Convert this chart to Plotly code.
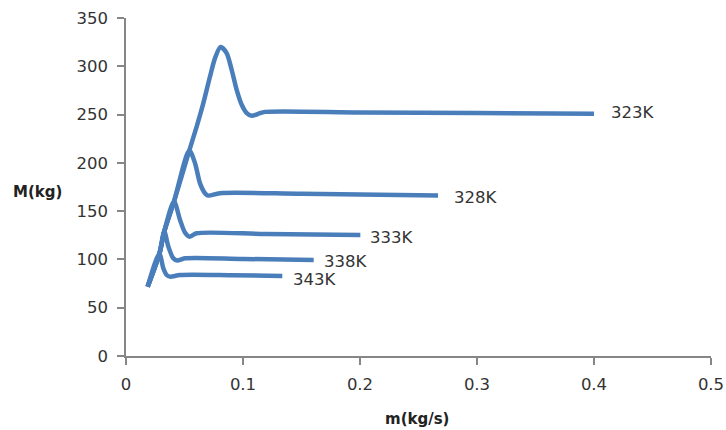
import plotly.graph_objects as go

# Data
labels = ["323K", "328K", "333K", "338K", "343K"]

x_323 = [0.0185, 0.0285, 0.0327, 0.041, 0.0541, 0.0604, 0.0661, 0.0718, 0.0761, 0.0809, 0.0860, 0.0903, 0.0946, 0.0989, 0.1032, 0.1074, 0.1131, 0.1188, 0.2, 0.3, 0.4]
m_323 = [71.8, 105.7, 128.8, 159.9, 212.7, 237.6, 261.9, 289.4, 308.5, 319.9, 313.7, 296.4, 275.6, 260.1, 251.5, 248.7, 250.8, 252.8, 252.2, 251.5, 250.8]

x_328 = [0.0185, 0.0285, 0.0327, 0.041, 0.0541, 0.059, 0.0632, 0.0675, 0.0703, 0.0803, 0.15, 0.2667]
m_328 = [71.8, 105.7, 128.8, 159.9, 212.7, 199.7, 179.0, 168.6, 166.1, 168.6, 168.0, 166.3]

x_333 = [0.0185, 0.0285, 0.0327, 0.041, 0.0462, 0.0504, 0.0541, 0.0604, 0.12, 0.2003]
m_333 = [71.8, 105.7, 128.8, 159.9, 140.9, 127.8, 123.6, 127.1, 126.3, 125.4]

x_338 = [0.0185, 0.0285, 0.0327, 0.0362, 0.0404, 0.0438, 0.0504, 0.1, 0.1604]
m_338 = [71.8, 105.7, 128.8, 113.3, 101.2, 98.8, 101.2, 100.5, 99.5]

x_343 = [0.0185, 0.0285, 0.0319, 0.0348, 0.0376, 0.0462, 0.09, 0.1336]
m_343 = [71.8, 105.7, 90.9, 83.9, 82.2, 83.9, 83.7, 82.9]

series_x = [x_323, x_328, x_333, x_338, x_343]
series_m = [m_323, m_328, m_333, m_338, m_343]

x_ticks = [0, 0.1, 0.2, 0.3, 0.4, 0.5]
y_ticks = [0, 50, 100, 150, 200, 250, 300, 350]

# Style
line_color = "#4a7ebb"
text_color = "#333333"
axis_color = "#868686"
font_family = "DejaVu Sans, Liberation Sans, sans-serif"
label_xshift = [15, 14, 8, 8, 9]
label_yshift = [1, -2, -3, -2, -4]

fig = go.Figure()
for xs, ms, name in zip(series_x, series_m, labels):
    fig.add_trace(go.Scatter(
        x=xs, y=ms, mode="lines", name=name,
        line=dict(color=line_color, width=4.5, shape="spline", smoothing=0.8),
        showlegend=False, hoverinfo="skip",
    ))

for xs, ms, name, dx, dy in zip(series_x, series_m, labels, label_xshift, label_yshift):
    fig.add_annotation(
        x=xs[-1], y=ms[-1], xref="x", yref="y", text=name, showarrow=False,
        xanchor="left", yanchor="middle", xshift=dx, yshift=dy,
        font=dict(family=font_family, size=16.5, color=text_color),
    )

fig.add_annotation(
    x=-0.151, y=0.4865, xref="paper", yref="paper", text="<b>M(kg)</b>",
    showarrow=False, xanchor="center", yanchor="middle",
    font=dict(family=font_family, size=15, color="#222222"),
)
fig.add_annotation(
    x=0.497, y=-0.1866, xref="paper", yref="paper", text="<b>m(kg/s)</b>",
    showarrow=False, xanchor="center", yanchor="middle",
    font=dict(family=font_family, size=15, color="#222222"),
)

fig.update_layout(
    width=726, height=430, autosize=False,
    margin=dict(l=126, r=15, t=18, b=74, autoexpand=False),
    paper_bgcolor="white", plot_bgcolor="white",
    font=dict(family=font_family, size=16.5, color=text_color),
)
fig.update_xaxes(
    range=[0, 0.5], tickvals=x_ticks, ticktext=[str(v) for v in x_ticks],
    showgrid=False, zeroline=False, showline=True, linecolor=axis_color, linewidth=1.5,
    ticks="outside", ticklen=7, tickcolor=axis_color, tickwidth=1.5,
    ticklabelstandoff=5, automargin=False,
)
fig.update_yaxes(
    range=[0, 350], tickvals=y_ticks,
    showgrid=False, zeroline=False, showline=True, linecolor=axis_color, linewidth=1.5,
    ticks="outside", ticklen=7, tickcolor=axis_color, tickwidth=1.5,
    ticklabelstandoff=6, automargin=False,
)

fig.write_html(
    "out.html",
    config={"responsive": False, "displayModeBar": False},
    post_script="document.body.style.margin='0';document.body.style.padding='0';document.body.style.overflow='hidden';",
)
